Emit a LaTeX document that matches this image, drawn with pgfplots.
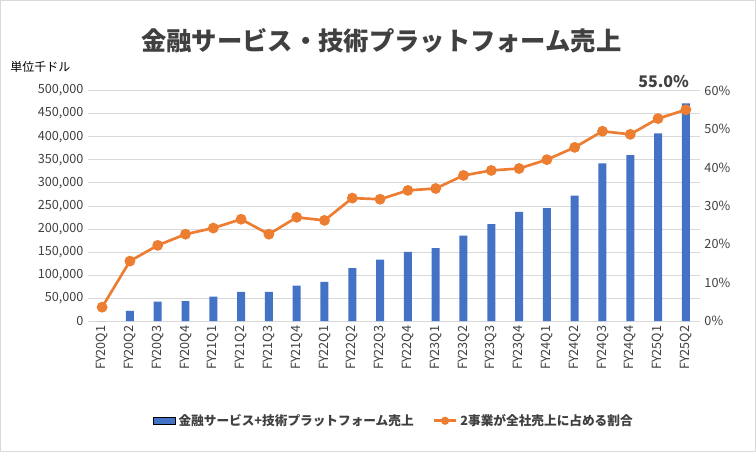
\documentclass[border=0pt]{standalone}
\usepackage{pgfplots}
\pgfplotsset{compat=1.18}
\usepackage{fontspec}
\setmainfont{Noto Sans CJK JP}
\definecolor{bblue}{HTML}{4472C4}
\definecolor{borange}{HTML}{ED7D31}
\definecolor{tgray}{HTML}{404040}
\definecolor{ggray}{HTML}{D9D9D9}
\begin{document}
\begin{tikzpicture}
\draw[ggray,fill=white] (-66pt,-97.5pt) rectangle (501pt,240.75pt);
\node[font=\bfseries\fontsize{19}{21}\selectfont,text=tgray] at (220pt,210pt) {金融サービス・技術プラットフォーム売上};
\node[font=\fontsize{9}{10}\selectfont,text=black,anchor=west] at (-62pt,191pt) {単位千ドル};
\begin{axis}[
 scale only axis, width=459pt, height=173pt,
 xmin=-0.5, xmax=21.5, ymin=0, ymax=500000,
 axis y line*=left, axis x line*=bottom,
 axis line style={ggray}, y axis line style={draw=none},
 xtick=data, xticklabels={FY20Q1,FY20Q2,FY20Q3,FY20Q4,FY21Q1,FY21Q2,FY21Q3,FY21Q4,FY22Q1,FY22Q2,FY22Q3,FY22Q4,FY23Q1,FY23Q2,FY23Q3,FY23Q4,FY24Q1,FY24Q2,FY24Q3,FY24Q4,FY25Q1,FY25Q2},
 x tick label style={rotate=90,anchor=east},
 ytick={0,50000,...,500000}, scaled y ticks=false,
 yticklabel style={/pgf/number format/.cd,fixed,1000 sep={,}},
 /pgf/number format/assume math mode=true,
 ticklabel style={font=\fontsize{9.5}{11}\selectfont,text=tgray},
 major tick length=0pt,
 ymajorgrids, grid style={ggray},
 legend style={at={(0.5,-0.38)},anchor=north,draw=none,legend columns=2,font=\fontsize{9.5}{11}\selectfont\bfseries,text=tgray,/tikz/every even column/.append style={column sep=12pt}},
]
\addplot[ybar,bar width=6pt,fill=bblue,draw=none,area legend] coordinates {
(0,0)(1,22000)(2,42000)(3,43000)(4,53000)(5,63000)(6,63000)(7,77000)(8,85000)(9,115000)(10,133000)(11,150000)(12,158000)(13,185000)(14,210000)(15,237000)(16,245000)(17,272000)(18,342000)(19,360000)(20,407000)(21,472000)};
\addlegendentry{金融サービス+技術プラットフォーム売上}
\addlegendimage{borange,line width=2pt,mark=*,mark options={fill=borange}}
\addlegendentry{2事業が全社売上に占める割合}
\end{axis}
\begin{axis}[
 scale only axis, width=459pt, height=173pt,
 xmin=-0.5, xmax=21.5, ymin=0, ymax=60,
 axis y line*=right, axis x line=none, y axis line style={draw=none},
 ytick={0,10,...,60}, yticklabel={\pgfmathprintnumber{\tick}\%},
 /pgf/number format/assume math mode=true,
 ticklabel style={font=\fontsize{9.5}{11}\selectfont,text=tgray},
 major tick length=0pt,
 clip=false,
]
\addplot[borange,line width=2pt,mark=*,mark size=3pt,mark options={fill=borange}] coordinates {
(0,3.6)(1,15.6)(2,19.7)(3,22.6)(4,24.2)(5,26.5)(6,22.6)(7,27.0)(8,26.2)(9,32.0)(10,31.7)(11,34.0)(12,34.5)(13,37.9)(14,39.2)(15,39.7)(16,42.0)(17,45.2)(18,49.4)(19,48.6)(20,52.7)(21,55.0)};
\node[font=\bfseries\fontsize{12}{14}\selectfont,text=tgray,anchor=south] at (axis cs:20.2,59.5) {55.0\%};
\end{axis}
\end{tikzpicture}
\end{document}
